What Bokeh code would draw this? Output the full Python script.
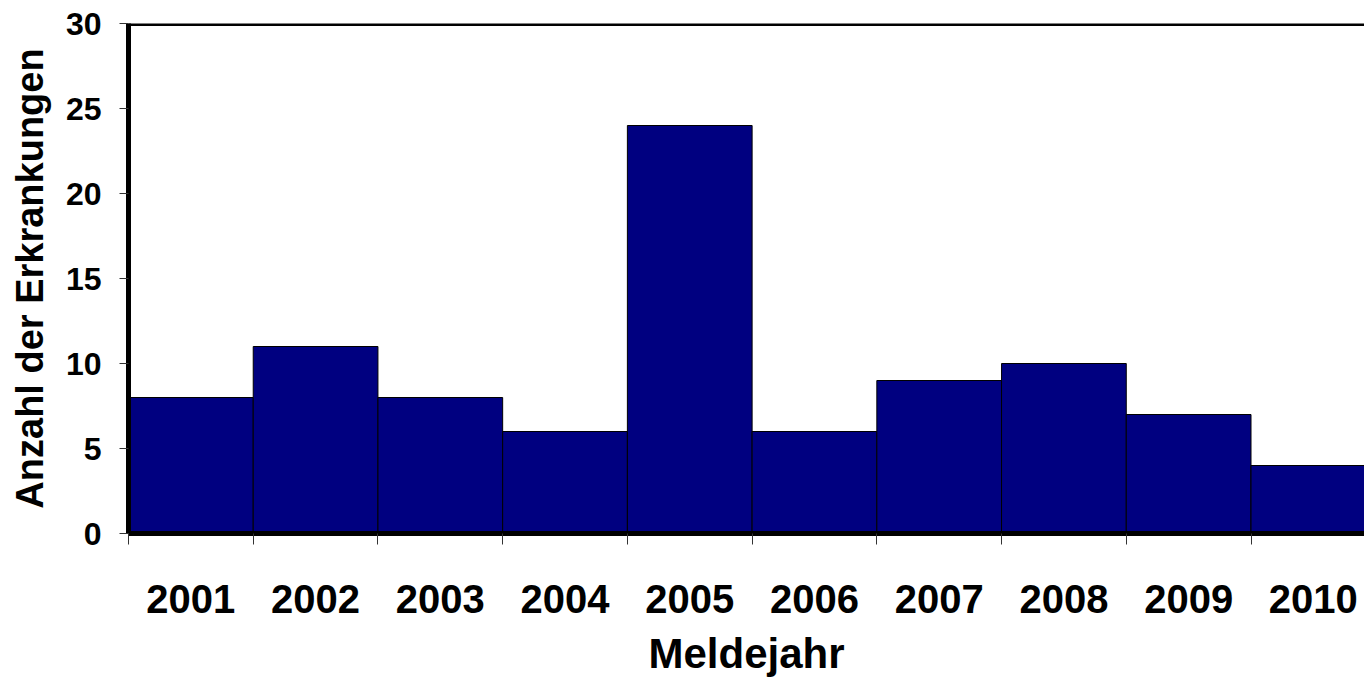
from bokeh.plotting import figure
from bokeh.models import FixedTicker, Span, ColumnDataSource, Range1d
from bokeh.embed import file_html
from bokeh.resources import INLINE

years = ["2001", "2002", "2003", "2004", "2005", "2006", "2007", "2008", "2009", "2010"]
counts = [8, 11, 8, 6, 24, 6, 9, 10, 7, 4]
y_ticks = [0, 5, 10, 15, 20, 25, 30]

FONT = "Liberation Sans"

centers = [i + 0.5 for i in range(len(years))]
src = ColumnDataSource(dict(x=centers, top=counts, year=years))

p = figure(width=1364, height=682, output_backend="svg", toolbar_location=None,
           x_range=Range1d(0, 9.91), y_range=Range1d(0, 30),
           min_border_left=128, min_border_right=0, min_border_top=23, min_border_bottom=149)
p.outline_line_color = None
p.background_fill_color = "white"
p.border_fill_color = "white"
p.xgrid.visible = False
p.ygrid.visible = False

p.vbar(x="x", top="top", width=1.0, bottom=0, source=src,
       fill_color="#000080", line_color="black", line_width=1)

# top border line
p.add_layout(Span(location=30, dimension="width", line_color="black", line_width=5))

# x axis
xa = p.xaxis[0]
xa.ticker = FixedTicker(ticks=centers, minor_ticks=list(range(len(years))))
xa.major_label_overrides = {c: y for c, y in zip(centers, years)}
xa.major_tick_out = 0
xa.major_tick_in = 0
xa.minor_tick_out = 11
xa.minor_tick_in = 0
xa.minor_tick_line_color = "#333333"
xa.minor_tick_line_width = 1
xa.axis_line_width = 5
xa.axis_line_color = "black"
xa.major_label_text_font = FONT
xa.major_label_text_font_style = "bold"
xa.major_label_text_font_size = "40px"
xa.major_label_text_color = "black"
xa.major_label_standoff = 40
xa.axis_label = "Meldejahr"
xa.axis_label_text_font = FONT
xa.axis_label_text_font_style = "bold"
xa.axis_label_text_font_size = "42px"
xa.axis_label_text_color = "black"
xa.axis_label_standoff = 14

# y axis
ya = p.yaxis[0]
ya.ticker = FixedTicker(ticks=y_ticks, minor_ticks=[])
ya.major_tick_out = 9
ya.major_tick_in = 0
ya.major_tick_line_color = "#333333"
ya.major_tick_line_width = 1
ya.axis_line_width = 5
ya.axis_line_color = "black"
ya.major_label_text_font = FONT
ya.major_label_text_font_style = "bold"
ya.major_label_text_font_size = "32px"
ya.major_label_text_color = "black"
ya.major_label_standoff = 18
ya.axis_label = "Anzahl der Erkrankungen"
ya.axis_label_text_font = FONT
ya.axis_label_text_font_style = "bold"
ya.axis_label_text_font_size = "38px"
ya.axis_label_text_color = "black"
ya.axis_label_standoff = 12

open("out.html", "w").write(file_html(p, INLINE))
